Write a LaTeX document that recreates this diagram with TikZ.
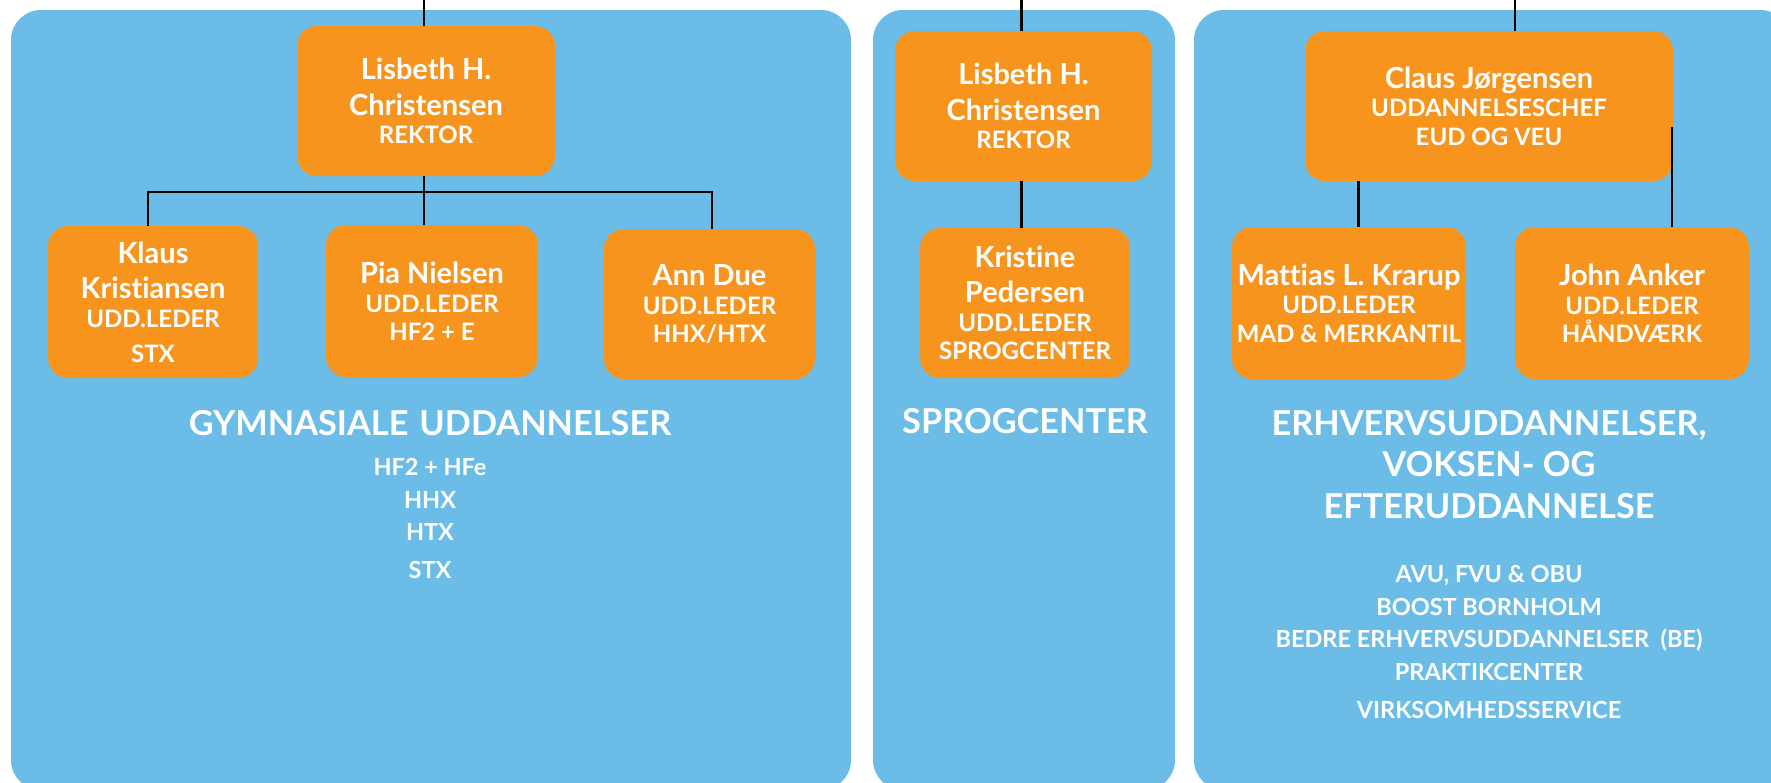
\documentclass[tikz,border=0pt]{standalone}
\usepackage{fontspec}
\setmainfont{Lato}[Ligatures=NoCommon]
\definecolor{panelblue}{HTML}{6BBDE8}
\definecolor{boxorange}{HTML}{F7941E}
\newcommand{\orgname}{\fontsize{29}{35.5}\selectfont\bfseries}
\newcommand{\orgrole}{\fontsize{24}{28.5}\selectfont\bfseries}
\newcommand{\orgtitle}{\fontsize{34.3}{41.5}\selectfont\bfseries}
\newcommand{\orglist}{\fontsize{23.5}{32.5}\selectfont\bfseries}
\begin{document}
\begin{tikzpicture}[x=1pt,y=-1pt,
  panel/.style={fill=panelblue, rounded corners=30pt},
  person/.style={fill=boxorange, rounded corners=20pt, text=white, align=center, inner sep=0pt, font=\orgname},
  link/.style={line width=2.6pt, draw=black},
  heading/.style={text=white, align=center, inner sep=0pt, font=\orgtitle},
  items/.style={text=white, align=center, inner sep=0pt, font=\orglist}]
\useasboundingbox (0,0) rectangle (1771,782);
% panels
\path[panel] (11,10) rectangle (851,790);
\path[panel] (873,10) rectangle (1175,790);
\path[panel] (1194,10) rectangle (1790,790);
% people
\node[person, minimum width=258, minimum height=150] (lis1) at (426,101) {Lisbeth H.\\ Christensen\\[-6.7pt] \orgrole REKTOR};
\node[person, minimum width=210, minimum height=152] (klaus) at (153,302) {Klaus\\ Kristiansen\\[-6.7pt] \orgrole UDD.LEDER\\[-1.1pt] \orgrole STX};
\node[person, minimum width=212, minimum height=152] (pia) at (432,301) {Pia Nielsen\\[-6.7pt] \orgrole UDD.LEDER\\[-7.2pt] \orgrole HF2 + E};
\node[person, minimum width=211, minimum height=150] (ann) at (709.5,304) {Ann Due\\[-6.7pt] \orgrole UDD.LEDER\\[-7.2pt] \orgrole HHX/HTX};
\node[person, minimum width=257, minimum height=150] (lis2) at (1023.5,106) {Lisbeth H.\\ Christensen\\[-6.7pt] \orgrole REKTOR};
\node[person, minimum width=210, minimum height=150] (kristine) at (1025,303) {Kristine\\ Pedersen\\[-6.7pt] \orgrole UDD.LEDER\\[-7.2pt] \orgrole SPROGCENTER};
\node[person, minimum width=368, minimum height=150] (claus) at (1489,106) {Claus Jørgensen\\[-6.7pt] \orgrole UDDANNELSESCHEF\\[-7.2pt] \orgrole EUD OG VEU};
\node[person, minimum width=234, minimum height=152] (mattias) at (1349,303) {Mattias L. Krarup\\[-6.7pt] \orgrole UDD.LEDER\\[-7.2pt] \orgrole MAD \& MERKANTIL};
\node[person, minimum width=234, minimum height=152] (john) at (1632,303) {John Anker\\[-6.7pt] \orgrole UDD.LEDER\\[-7.2pt] \orgrole HÅNDVÆRK};
% headings and lists
\node[heading] (gymh) at (430,423) {GYMNASIALE\hspace{11pt}UDDANNELSER};
\node[items] (gyml) at (430,518.5) {HF2 + HFe\\ HHX\\ HTX\\[5.5pt] STX};
\node[heading] (sproh) at (1025,421) {SPROGCENTER};
\node[heading] (erhh) at (1489,464.5) {ERHVERVSUDDANNELSER,\\ VOKSEN- OG\\ EFTERUDDANNELSE};
\node[items] (erhl) at (1489,642) {AVU, FVU \& OBU\\ BOOST BORNHOLM\\ BEDRE ERHVERVSUDDANNELSER\ \ (BE)\\ PRAKTIKCENTER\\[6pt] VIRKSOMHEDSSERVICE};
% connectors
\coordinate (top1) at (424,0);
\coordinate (top2) at (1021.5,0);
\coordinate (top3) at (1515,0);
\coordinate (bus1) at (424,192);
\coordinate (side3) at (1672,127);
\draw[link] (top1) -- (top1 |- lis1.north);
\draw[link] (bus1 |- lis1.south) -- (bus1);
\draw[link] ([xshift=-5pt]klaus.north) |- (bus1) -| ([xshift=2.5pt]ann.north);
\draw[link] (bus1) -- (bus1 |- pia.north);
\draw[link] (top2) -- (top2 |- lis2.north);
\draw[link] (top2 |- lis2.south) -- (top2 |- kristine.north);
\draw[link] (top3) -- (top3 |- claus.north);
\draw[link] ([xshift=9.5pt]mattias.north) -- ([xshift=9.5pt]mattias.north |- claus.south);
\draw[link] (side3) -- (side3 |- john.north);
\end{tikzpicture}
\end{document}
